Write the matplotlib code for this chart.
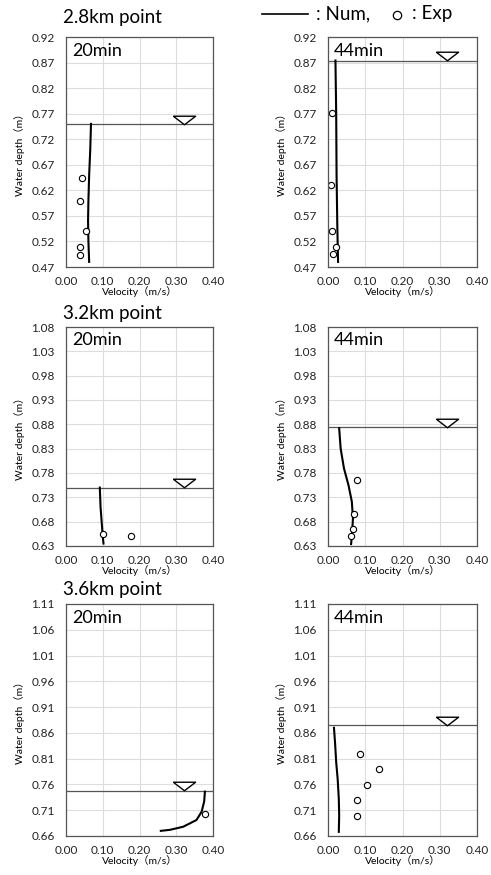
import numpy as np
import matplotlib.pyplot as plt
from matplotlib.lines import Line2D
from matplotlib.transforms import offset_copy

plt.rcParams['font.family'] = ['Lato', 'Noto Sans CJK JP', 'DejaVu Sans']

# ---- data ----
titles = ["2.8km point", "3.2km point", "3.6km point"]
times = ["20min", "44min"]
ylims = [(0.47, 0.92), (0.63, 1.08), (0.66, 1.11)]

# water surface level per panel (row, col)
surface = [[0.750, 0.874], [0.750, 0.874], [0.748, 0.875]]

# numerical profiles: (velocity, depth)
num_v = [
    [[0.068, 0.066, 0.063, 0.061, 0.060, 0.061, 0.063],
     [0.020, 0.022, 0.023, 0.025, 0.027]],
    [[0.092, 0.094, 0.097, 0.100, 0.102],
     [0.030, 0.034, 0.043, 0.055, 0.064, 0.067, 0.065, 0.062]],
    [[0.378, 0.376, 0.369, 0.355, 0.319, 0.283, 0.258],
     [0.016, 0.019, 0.022, 0.026, 0.029, 0.030, 0.029]],
]
num_z = [
    [[0.750, 0.70, 0.65, 0.60, 0.56, 0.52, 0.48],
     [0.874, 0.77, 0.65, 0.55, 0.48]],
    [[0.750, 0.71, 0.68, 0.65, 0.635],
     [0.872, 0.830, 0.789, 0.755, 0.721, 0.687, 0.660, 0.634]],
    [[0.746, 0.727, 0.707, 0.691, 0.678, 0.672, 0.670],
     [0.870, 0.840, 0.803, 0.770, 0.732, 0.700, 0.668]],
]

# experimental points
exp_v = [
    [[0.043, 0.037, 0.054, 0.037, 0.039], [0.011, 0.008, 0.012, 0.021, 0.013]],
    [[0.101, 0.176], [0.079, 0.070, 0.068, 0.062]],
    [[0.378], [0.087, 0.136, 0.105, 0.079, 0.077]],
]
exp_z = [
    [[0.645, 0.600, 0.540, 0.509, 0.494], [0.771, 0.630, 0.540, 0.509, 0.495]],
    [[0.655, 0.651], [0.765, 0.696, 0.665, 0.650]],
    [[0.702], [0.819, 0.789, 0.758, 0.729, 0.699]],
]

W, H = 491, 875
fig = plt.figure(figsize=(W / 100, H / 100), dpi=100)

cols = [(66, 213), (328, 477)]
rows = [(37, 267), (327, 546), (604, 836)]

# flat open triangle for the water surface symbol
tri = [(-1.3, 0.5), (1.3, 0.5), (0, -0.5), (-1.3, 0.5)]

for r in range(3):
    for c in range(2):
        x0, x1 = cols[c]
        y0, y1 = rows[r]
        ax = fig.add_axes([x0 / W, 1 - y1 / H, (x1 - x0) / W, (y1 - y0) / H])
        lo, hi = ylims[r]
        ax.set_xlim(0, 0.4)
        ax.set_ylim(lo, hi)
        xt = np.arange(0, 0.41, 0.1)
        yt = np.round(np.arange(lo, hi + 0.001, 0.05), 2)
        ax.set_xticks(xt)
        ax.set_yticks(yt)
        ax.set_xticklabels(["%.2f" % v for v in xt])
        ax.set_yticklabels(["%.2f" % v for v in yt])
        ax.tick_params(labelsize=8.5, length=0, colors='#222222')
        ax.tick_params(axis='x', pad=6.5)
        ax.tick_params(axis='y', pad=8)
        ax.grid(True, color='#dddddd', lw=0.8)
        ax.set_axisbelow(True)
        for s in ax.spines.values():
            s.set_color('#555555')
            s.set_linewidth(0.9)
        ax.set_xlabel("Velocity（m/s）", fontsize=7.5, labelpad=-1)
        ax.set_ylabel("Water depth（m）", fontsize=7.5, labelpad=5)

        ax.axhline(surface[r][c], color='#555555', lw=0.9)
        tr = offset_copy(ax.transData, fig=fig, y=3.0, units='points')
        ax.plot([0.32], [surface[r][c]], marker=tri, ms=16, transform=tr,
                mfc='white', mec='black', mew=1.0, ls='none', clip_on=False)
        ax.plot(num_v[r][c], num_z[r][c], color='black', lw=1.5)
        ax.plot(exp_v[r][c], exp_z[r][c], 'o', ms=4.5, mfc='white',
                mec='black', mew=0.8, ls='none')
        ax.text(0.04, 0.975, times[c], transform=ax.transAxes,
                fontsize=13, va='top', ha='left')

# row titles
title_y = [17, 313, 590]
for r in range(3):
    fig.text(112 / W, 1 - title_y[r] / H, titles[r], fontsize=13.5,
             ha='center', va='center')

# legend
fig.add_artist(Line2D([262 / W, 308 / W], [1 - 14 / H, 1 - 14 / H],
                      color='black', lw=1.2))
fig.text(316 / W, 1 - 14 / H, ": Num,", fontsize=13.5, va='center', ha='left')
fig.add_artist(Line2D([397 / W], [1 - 15 / H], marker='o', ms=6,
                      mfc='white', mec='black', mew=0.9, ls='none'))
fig.text(412 / W, 1 - 14 / H, ": Exp", fontsize=13.5, va='center', ha='left')

fig.savefig("out.png", dpi=100)
